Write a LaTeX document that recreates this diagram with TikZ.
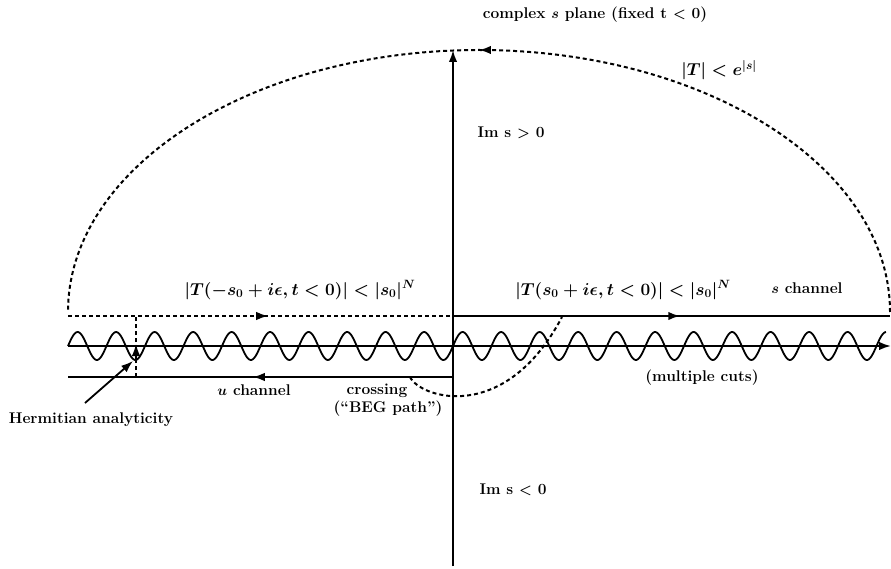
\documentclass[tikz,border=0pt]{standalone}
\usetikzlibrary{arrows.meta,decorations.markings}
\begin{document}
\begin{tikzpicture}[x=1pt,y=1pt,
  ax/.style={line width=2pt},
  dsh/.style={line width=2pt,dash pattern=on 4pt off 3pt},
  tipend/.style={-{Latex[length=12pt,width=8.5pt]}},
  lbl/.style={font=\fontsize{15.5}{17}\selectfont\bfseries\boldmath, inner sep=0pt},
  mlbl/.style={font=\fontsize{17.5}{19}\selectfont\bfseries\boldmath, inner sep=0pt},
  midarrow/.style={postaction={decorate},decoration={markings,
    mark=at position #1 with {\arrow[solid]{Latex[length=12pt,width=8.5pt]}}}}
]
\useasboundingbox (0,0) rectangle (891,-569);
% coordinates
\coordinate (vb) at (453,-566);
\coordinate (vt) at (453,-50);
\coordinate (arcR) at (890,-312);
\coordinate (dL) at (68,-316);
\coordinate (dO) at (453,-316);
\coordinate (sR) at (890,-316);
\coordinate (rL) at (68,-346);
\coordinate (rR) at (891,-346);
\coordinate (uO) at (453,-377);
\coordinate (uL) at (68,-377);
\coordinate (hT) at (136,-316);
\coordinate (hB) at (136,-377);
\coordinate (hA0) at (136,-360);
\coordinate (hA1) at (136,-344);
\coordinate (hs) at (85,-403);
\coordinate (he) at (133,-361);
\coordinate (bS) at (410,-377);
\coordinate (bE) at (562,-317);
% vertical axis
\draw[ax,tipend] (vb) -- (vt);
% big dashed arc
\draw[dsh,midarrow=0.5] (arcR) arc[start angle=0,end angle=180,x radius=411,y radius=262];
% upper dashed line (u side)
\draw[dsh,midarrow=0.52] (dL) -- (dO);
% upper solid line (s side)
\draw[ax,midarrow=0.52] (dO) -- (sR);
% real axis
\draw[ax,tipend] (rL) -- (rR);
% wavy cuts
\draw[line width=1.8pt,samples=700,domain=68:886,smooth]
  plot (\x,{-346+14*sin((\x-68)/38.5*360)});
% lower solid line (u channel)
\draw[ax,midarrow=0.52] (uO) -- (uL);
% hermitian dashed vertical
\draw[line width=1.5pt,dash pattern=on 4pt off 3pt] (hB) -- (hT);
\draw[line width=1.5pt,tipend] (hA0) -- (hA1);
\draw[line width=1.8pt,-{Latex[length=12pt,width=8.5pt]}] (hs) -- (he);
% BEG path
\draw[dsh] (bS) .. controls (420,-398) and (505,-425) .. (bE);
% labels
\node[lbl] (title) at (595,-15) {complex $s$ plane (fixed t $<$ 0)};
\node[mlbl] (bound) at (719,-70) {$|T|<e^{|s|}$};
\node[lbl] (imp) at (511,-133) {Im s $>$ 0};
\node[mlbl] (lT) at (300,-290) {$|T(-s_0+i\epsilon,t<0)|<|s_0|^N$};
\node[mlbl] (rT) at (623,-290) {$|T(s_0+i\epsilon,t<0)|<|s_0|^N$};
\node[lbl] (sch) at (807,-288) {$s$ channel};
\node[lbl] (uch) at (254,-390) {$u$ channel};
\node[lbl] (cr) at (377,-391) {crossing};
\node[lbl] (beg) at (388,-409) {(``BEG path'')};
\node[lbl] (mc) at (702,-378) {(multiple cuts)};
\node[lbl] (herm) at (91,-420) {Hermitian analyticity};
\node[lbl] (imn) at (513,-490) {Im s $<$ 0};
\end{tikzpicture}
\end{document}
